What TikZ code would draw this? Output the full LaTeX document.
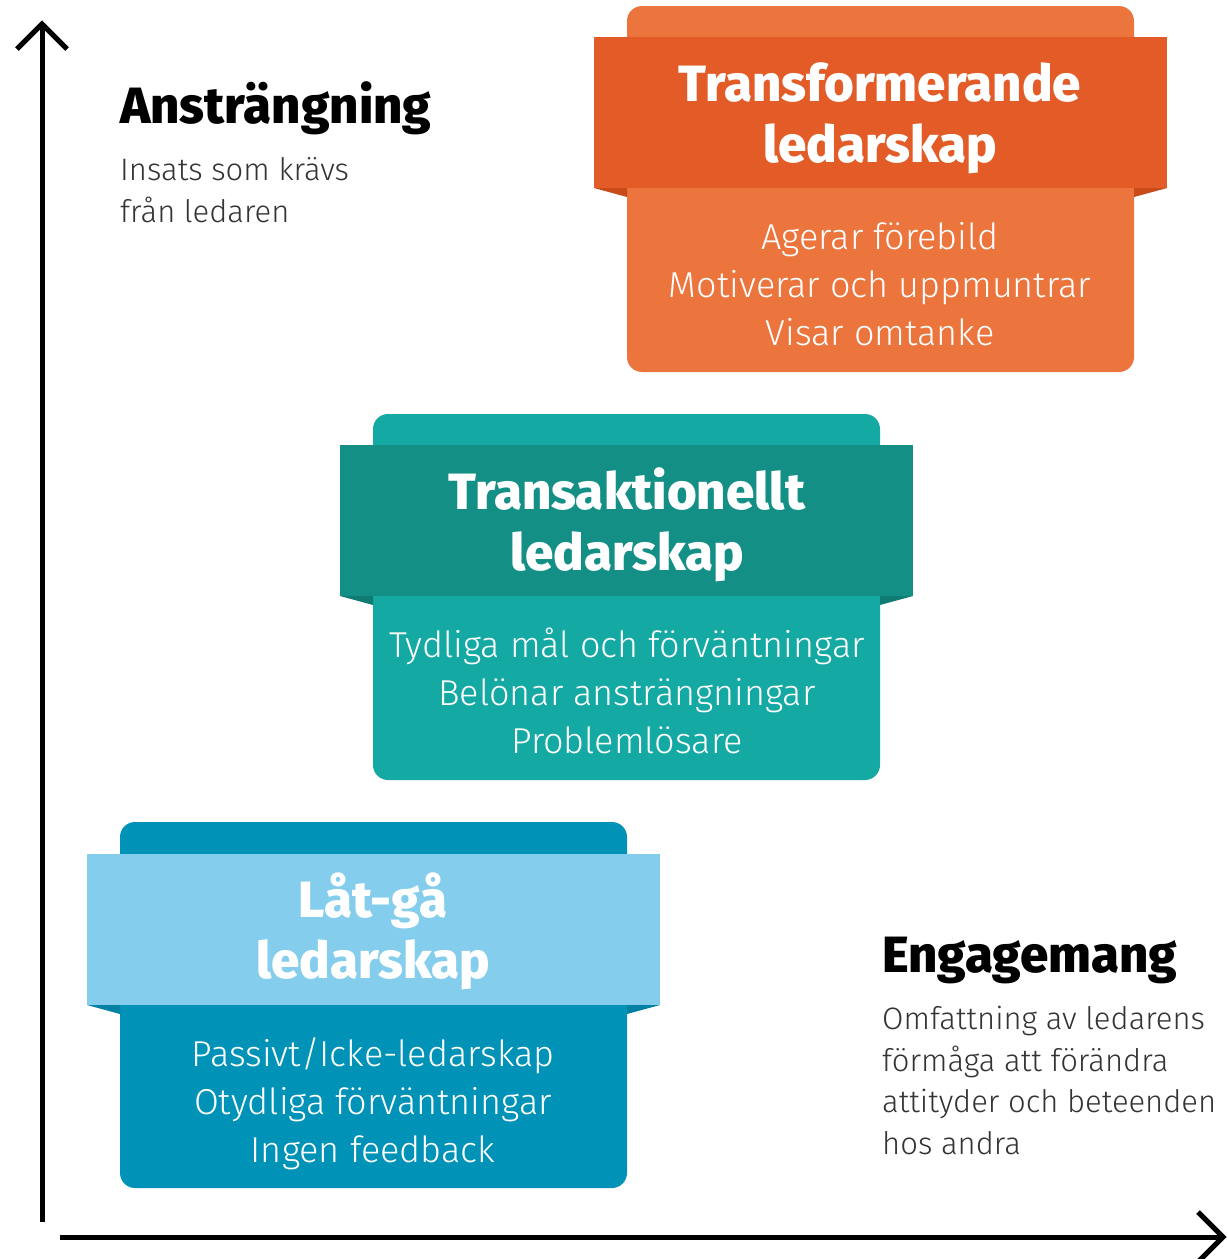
\documentclass[tikz,border=0pt]{standalone}
\usepackage{fontspec}
\setmainfont{Fira Sans}
\newfontfamily\lightf{Fira Sans Light}
\newfontfamily\heavyf{Fira Sans ExtraBold}
\definecolor{orbody}{HTML}{EB753D}
\definecolor{orband}{HTML}{E35B26}
\definecolor{orfold}{HTML}{C94A1B}
\definecolor{tebody}{HTML}{15A9A4}
\definecolor{teband}{HTML}{138F86}
\definecolor{tefold}{HTML}{0F7B73}
\definecolor{blbody}{HTML}{0092B7}
\definecolor{blband}{HTML}{84CDEC}
\definecolor{blfold}{HTML}{0080A3}
\tikzset{
  bodybox/.style={rectangle, rounded corners=15pt, inner sep=0pt, outer sep=0pt,
    minimum width=507pt, minimum height=366pt, anchor=north west},
  bandbox/.style={rectangle, inner sep=0pt, outer sep=0pt,
    minimum width=573pt, minimum height=151pt, anchor=north west},
  titletext/.style={anchor=base, align=center, text=white, inner sep=0pt,
    font=\heavyf\fontsize{51}{61}\selectfont},
  listtext/.style={anchor=base, align=center, text=white, inner sep=0pt,
    font=\lightf\fontsize{36}{48}\selectfont},
  headtext/.style={anchor=base west, align=left, inner sep=0pt,
    font=\heavyf\fontsize{51}{60}\selectfont},
  desctext/.style={anchor=base west, align=left, inner sep=0pt, text=black!80,
    font=\lightf\fontsize{31}{41.5}\selectfont},
  axisline/.style={line width=5pt, black},
}
\begin{document}
\begin{tikzpicture}[x=1pt,y=-1pt]
\useasboundingbox (0,0) rectangle (1227,1259);
\fill[white] (0,0) rectangle (1227,1259);

% orange block
\node[bodybox, fill=orbody] (obody) at (627,6) {};
\node[bandbox, fill=orband] (oband) at (594,37) {};
\fill[orfold] (oband.south west) -- (627,188) -- (627,197) -- cycle;
\fill[orfold] (oband.south east) -- (1134,188) -- (1134,197) -- cycle;
\node[titletext] (otitle) at (880,162) {Transformerande\\ledarskap};
\node[listtext] (olist) at (880,345) {Agerar förebild\\Motiverar och uppmuntrar\\Visar omtanke};

% teal block
\node[bodybox, fill=tebody] (tbody) at (373,414) {};
\node[bandbox, fill=teband] (tband) at (340,445) {};
\fill[tefold] (tband.south west) -- (373,596) -- (373,605) -- cycle;
\fill[tefold] (tband.south east) -- (880,596) -- (880,605) -- cycle;
\node[titletext] (ttitle) at (627,570) {Transaktionellt\\ledarskap};
\node[listtext] (tlist) at (627,753) {Tydliga mål och förväntningar\\Belönar ansträngningar\\Problemlösare};

% blue block
\node[bodybox, fill=blbody] (bbody) at (120,822) {};
\node[bandbox, fill=blband] (bband) at (87,854) {};
\fill[blfold] (bband.south west) -- (120,1005) -- (120,1014) -- cycle;
\fill[blfold] (bband.south east) -- (627,1005) -- (627,1014) -- cycle;
\node[titletext] (btitle) at (373,978) {Låt-gå\\ledarskap};
\node[listtext] (blist) at (373,1162) {Passivt/Icke-ledarskap\\Otydliga förväntningar\\Ingen feedback};

% axis labels
\node[headtext] (yhead) at (120,123) {Ansträngning};
\node[desctext] (ydesc) at (120,222) {Insats som krävs\\från ledaren};
\node[headtext] (xhead) at (882,972) {Engagemang};
\node[desctext] (xdesc) at (882,1154) {Omfattning av ledarens\\förmåga att förändra\\attityder och beteenden\\hos andra};

% axes
\coordinate (yfoot) at (42,1222);
\coordinate (ytip) at (42,24);
\coordinate (xfoot) at (60,1237);
\coordinate (xtip) at (1223,1237);
\draw[axisline] (yfoot) -- (ytip);
\draw[axisline, miter limit=10] ([shift={(-25,25)}]ytip) -- (ytip) -- ([shift={(25,25)}]ytip);
\draw[axisline] (xfoot) -- (xtip);
\draw[axisline, miter limit=10] ([shift={(-25,-25)}]xtip) -- (xtip) -- ([shift={(-25,25)}]xtip);
\end{tikzpicture}
\end{document}
